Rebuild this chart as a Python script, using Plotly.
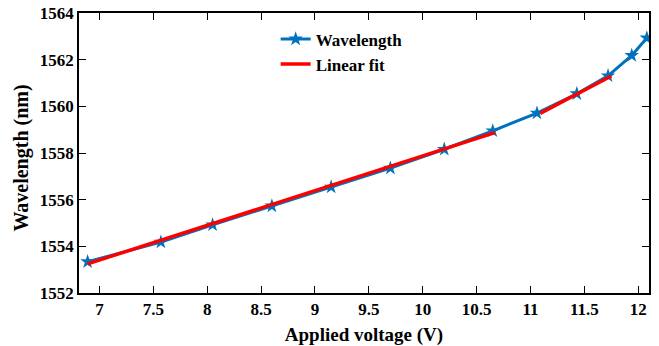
import plotly.graph_objects as go

# Measured peak wavelength versus applied voltage
voltage = [6.89, 7.57, 8.05, 8.60, 9.15, 9.70, 10.20, 10.65, 11.06, 11.43, 11.72, 11.94, 12.08]
wavelength = [1553.34, 1554.18, 1554.92, 1555.73, 1556.54, 1557.35, 1558.16, 1558.95,
              1559.71, 1560.54, 1561.31, 1562.18, 1562.93]

# Piecewise linear fit (two segments, separated by a gap)
fit_v = [6.89, 10.67, None, 11.09, 11.75]
fit_wl = [1553.25, 1558.87, None, 1559.70, 1561.30]

x_ticks = [7, 7.5, 8, 8.5, 9, 9.5, 10, 10.5, 11, 11.5, 12]
y_ticks = [1552, 1554, 1556, 1558, 1560, 1562, 1564]

BLUE = "#0072BD"
RED = "#FF0000"
FONT = '"Liberation Serif", "Times New Roman", Times, serif'

fig = go.Figure()
fig.add_trace(go.Scatter(
    x=voltage, y=wavelength, mode="lines+markers", name="<b>Wavelength</b>",
    line=dict(color=BLUE, width=3),
    marker=dict(symbol="star", size=11, color=BLUE),
))
fig.add_trace(go.Scatter(
    x=fit_v, y=fit_wl, mode="lines", name="<b>Linear fit</b>",
    line=dict(color=RED, width=3.5), connectgaps=False,
))

axis_common = dict(
    showgrid=False, zeroline=False, showline=True, linecolor="black", linewidth=1.5,
    mirror="ticks", ticks="inside", ticklen=7, tickwidth=1.2, tickcolor="black",
    tickfont=dict(family=FONT, size=17, color="black"), automargin=False,
)

fig.update_xaxes(
    range=[6.81, 12.10], tickvals=x_ticks, ticktext=[f"<b>{t:g}</b>" for t in x_ticks],
    title=dict(text="<b>Applied voltage (V)</b>", font=dict(family=FONT, size=19, color="black")),
    **axis_common,
)
fig.update_yaxes(
    range=[1552, 1564], tickvals=y_ticks, ticktext=[f"<b>{t}</b>" for t in y_ticks],
    **axis_common,
)

# Y-axis title placed as a rotated annotation beside the tick labels
fig.add_annotation(
    text="<b>Wavelength (nm)</b>", xref="paper", yref="paper",
    x=-0.1, y=0.48, xanchor="center", yanchor="middle", textangle=-90,
    showarrow=False, font=dict(family=FONT, size=20, color="black"),
)

fig.update_layout(
    width=659, height=346,
    margin=dict(l=79, r=10, t=13, b=53),
    paper_bgcolor="white", plot_bgcolor="white",
    font=dict(family=FONT),
    showlegend=True,
    legend=dict(
        x=0.345, y=0.97, xanchor="left", yanchor="top",
        font=dict(family=FONT, size=17, color="black"),
        bgcolor="rgba(0,0,0,0)", itemwidth=30, tracegroupgap=0,
    ),
)

fig.write_html("out.html")
